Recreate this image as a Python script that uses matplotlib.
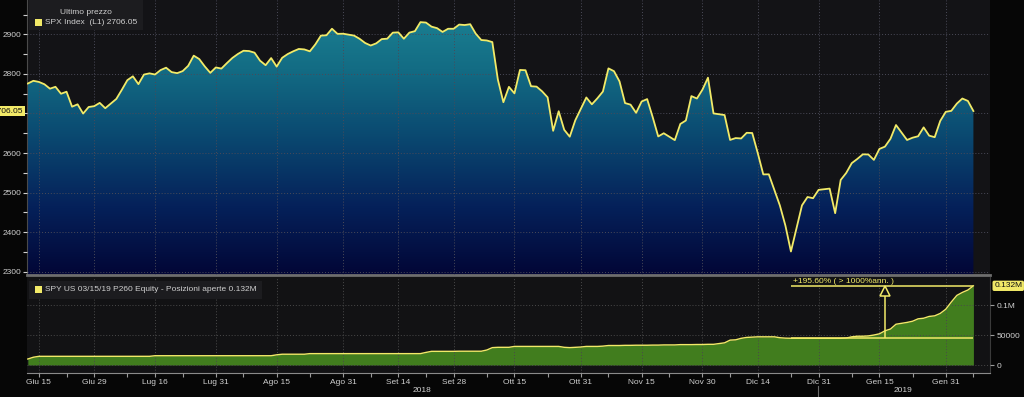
import numpy as np
import pandas as pd
import matplotlib
matplotlib.use("Agg")
import matplotlib.pyplot as plt
from matplotlib.colors import LinearSegmentedColormap
from matplotlib.patches import Rectangle

plt.rcParams["font.family"] = ["Liberation Sans", "DejaVu Sans"]

# trading calendar (NYSE holidays in the window)
start, end = "2018-06-13", "2019-02-07"
holidays = ["2018-07-04", "2018-09-03", "2018-11-22", "2018-12-05",
            "2018-12-25", "2019-01-01", "2019-01-21"]

# SPX closes per month
spx_jun = [2775.63, 2782.49, 2779.66, 2773.75, 2762.59, 2767.32, 2749.76, 2754.88, 2717.07,
           2723.06, 2699.63, 2716.31, 2718.37]
spx_jul = [2726.71, 2713.22, 2736.61, 2759.82, 2784.17, 2793.84, 2774.02, 2798.29, 2801.31,
           2798.43, 2809.55, 2815.62, 2804.49, 2801.83, 2806.98, 2820.40, 2846.07, 2837.44,
           2818.82, 2802.60, 2816.29]
spx_aug = [2813.36, 2827.22, 2840.35, 2850.40, 2858.45, 2857.70, 2853.58, 2833.28, 2821.93,
           2839.96, 2818.37, 2840.69, 2850.13, 2857.05, 2862.96, 2861.82, 2856.98, 2874.69,
           2896.74, 2897.52, 2914.04, 2901.13, 2901.52]
spx_sep = [2896.72, 2888.60, 2878.05, 2871.68, 2877.13, 2887.89, 2888.92, 2904.18, 2904.98,
           2888.80, 2904.31, 2907.95, 2930.75, 2929.67, 2919.37, 2915.56, 2905.97, 2914.00,
           2913.98]
spx_oct = [2924.59, 2923.43, 2925.51, 2901.61, 2885.57, 2884.43, 2880.34, 2785.68, 2728.37,
           2767.13, 2750.79, 2809.92, 2809.21, 2768.78, 2767.78, 2755.88, 2740.69, 2656.10,
           2705.57, 2658.69, 2641.25, 2682.63, 2711.74]
spx_nov = [2740.37, 2723.06, 2738.31, 2755.45, 2813.89, 2806.83, 2781.01, 2726.22, 2722.18,
           2701.58, 2730.20, 2736.27, 2690.73, 2641.89, 2649.93, 2632.56, 2673.45, 2682.17,
           2743.79, 2737.76, 2760.17]
spx_dec = [2790.37, 2700.06, 2695.95, 2633.08, 2637.72, 2636.78, 2651.07, 2650.54, 2599.95,
           2545.94, 2546.16, 2506.96, 2467.42, 2416.62, 2351.10, 2467.70, 2488.83, 2485.74,
           2506.85]
spx_jan = [2510.03, 2447.89, 2531.94, 2549.69, 2574.41, 2584.96, 2596.64, 2596.26, 2582.61,
           2610.30, 2616.10, 2635.96, 2670.71, 2632.90, 2638.70, 2642.33, 2664.76, 2643.85,
           2640.00, 2681.05, 2704.10]
spx_feb = [2706.53, 2724.87, 2737.70, 2731.61, 2706.05]

# SPY 03/15/19 P260 open interest per month
oi_jun = [10000, 13000, 14500, 14500, 14500, 14500, 14500, 14500, 14500, 14500, 14500, 14500,
          14500]
oi_jul = [14500, 14500, 14500, 14500, 14500, 14500, 14500, 14500, 14500, 15500, 15500, 15500,
          15500, 15500, 15500, 15500, 15500, 15500, 15500, 15500, 15500]
oi_aug = [15500, 15500, 15500, 15500, 15500, 15500, 15500, 15500, 15500, 15500, 17000, 18000,
          18000, 18000, 18000, 18000, 19000, 19000, 19000, 19000, 19000, 19000, 19000]
oi_sep = [19000, 19000, 19000, 19000, 19000, 19000, 19000, 19000, 19000, 19000, 19000, 19000,
          19000, 21000, 22800, 22800, 22800, 22800, 22800]
oi_oct = [23000, 23000, 23000, 23000, 23000, 25000, 29000, 29500, 29500, 29500, 31000, 31000,
          31000, 31000, 31000, 31000, 31000, 31000, 31000, 29500, 29000, 29500, 30000]
oi_nov = [31000, 31000, 31000, 31500, 32500, 32500, 32500, 32800, 32800, 33000, 33000, 33000,
          33200, 33200, 33500, 33500, 34000, 34000, 34000, 34200, 34200]
oi_dec = [34500, 34500, 37000, 41500, 42000, 44500, 46000, 46500, 47000, 47000, 47000, 47000,
          45500, 44800, 44600, 44500, 44500, 44500, 44500]
oi_jan = [44500, 44500, 44500, 45000, 47000, 48000, 48000, 48500, 50000, 52000, 57000, 60000,
          68000, 71000, 73000, 77000, 78000, 81000, 82000, 86000, 93000]
oi_feb = [105000, 116000, 121000, 125000, 132000]

major_dates = ["2018-06-15", "2018-06-29", "2018-07-16", "2018-07-31", "2018-08-15",
               "2018-08-31", "2018-09-14", "2018-09-28", "2018-10-15", "2018-10-31",
               "2018-11-15", "2018-11-30", "2018-12-14", "2018-12-31", "2019-01-15",
               "2019-01-31"]
major_labels = ["Giu 15", "Giu 29", "Lug 16", "Lug 31", "Ago 15", "Ago 31", "Set 14", "Set 28",
                "Ott 15", "Ott 31", "Nov 15", "Nov 30", "Dic 14", "Dic 31", "Gen 15", "Gen 31"]
minor_dates = ["2018-06-22", "2018-07-09", "2018-07-23", "2018-08-07", "2018-08-23",
               "2018-09-07", "2018-09-21", "2018-10-08", "2018-10-23", "2018-11-07",
               "2018-11-22", "2018-12-07", "2018-12-24", "2019-01-08", "2019-01-23",
               "2019-02-07"]

spx = spx_jun + spx_jul + spx_aug + spx_sep + spx_oct + spx_nov + spx_dec + spx_jan + spx_feb
oi = oi_jun + oi_jul + oi_aug + oi_sep + oi_oct + oi_nov + oi_dec + oi_jan + oi_feb
dates = pd.bdate_range(start, end, freq="C", holidays=holidays)
assert len(dates) == len(spx) == len(oi)

# x axis in weekdays (Bloomberg style)
def wd(d):
    return np.busday_count(start, np.array(d, dtype="datetime64[D]"))

x = wd(dates.values.astype("datetime64[D]"))
xmaj = wd(major_dates)
xmin = wd(minor_dates)

YEL = "#f2ea68"
TXT = "#cfcfcf"
FS = 6
W, H = 1024, 397
fig = plt.figure(figsize=(W / 100, H / 100), dpi=100, facecolor="#060606")


def fx(px):
    return px / W


def fy(py):
    return 1 - py / H


ax = fig.add_axes([fx(27), fy(275), fx(963), 275 / H])
ax2 = fig.add_axes([fx(27), fy(373), fx(963), (373 - 277) / H])

xl = (-0.15, 174)

# ---- top panel: SPX ----
ylo, yhi = 2291.7, 2986.7
ax.set_facecolor("#131316")
cmap = LinearSegmentedColormap.from_list(
    "bb", ["#020636", "#05215a", "#0a4870", "#136c84", "#1d8595"])
grad = np.linspace(0, 1, 256).reshape(-1, 1)
im = ax.imshow(grad, extent=[xl[0], xl[1], ylo, yhi], origin="lower", aspect="auto",
               cmap=cmap, zorder=1)
poly = ax.fill_between(x, spx, ylo, color="none", lw=0)
im.set_clip_path(poly.get_paths()[0], transform=ax.transData)
ax.plot(x, spx, color=YEL, lw=1.3, zorder=3)
ax.set_xlim(xl)
ax.set_ylim(ylo, yhi)

yt = [2300, 2400, 2500, 2600, 2700, 2800, 2900]
ax.set_yticks(yt)
ax.set_yticklabels([str(v) if v != 2700 else "" for v in yt])
ax.set_yticks(np.arange(2350, 2990, 100), minor=True)
ax.set_xticks(xmaj)
ax.set_xticklabels([])
ax.tick_params(axis="x", length=0)
ax.tick_params(axis="y", which="both", colors=TXT, labelsize=FS, length=3, pad=1, width=0.8)
ax.grid(True, color="#4a4a58", linestyle=(0, (1, 2)), lw=0.7)
ax.set_axisbelow(False)
for s in ["top", "right"]:
    ax.spines[s].set_visible(False)
ax.spines["left"].set_color("#4a4a4a")
ax.spines["bottom"].set_color("#6e6e6e")
ax.spines["bottom"].set_linewidth(2)

ax.annotate("2706.05", xy=(0, spx[-1]), xycoords=("axes fraction", "data"),
            xytext=(-2.5, 0), textcoords="offset points", ha="right", va="center",
            fontsize=FS, color="#111111",
            bbox=dict(boxstyle="square,pad=0.2", fc=YEL, ec="none"))

# ---- bottom panel: open interest ----
ax2.set_facecolor("#121214")
ax2.fill_between(x, oi, 0, color="#417d1e", lw=0, zorder=2)
ax2.plot(x, oi, color=YEL, lw=1.0, zorder=3)
ax2.set_xlim(xl)
ax2.set_ylim(-13300, 146700)
ax2.set_xticks(xmaj)
ax2.set_xticklabels(major_labels)
ax2.set_xticks(xmin, minor=True)
ax2.tick_params(axis="x", which="both", colors="#9a9a9a", labelcolor=TXT, labelsize=FS,
                length=3, pad=1.5, width=0.8)
ax2.yaxis.tick_right()
ax2.set_yticks([0, 50000, 100000])
ax2.set_yticklabels(["0", "50000", "0.1M"])
ax2.tick_params(axis="y", colors="#9a9a9a", labelcolor=TXT, labelsize=FS, length=3, pad=2)
ax2.grid(True, color="#4a4a4a", linestyle=(0, (1, 2)), lw=0.7)
ax2.set_axisbelow(False)
for s in ["top", "left"]:
    ax2.spines[s].set_visible(False)
ax2.spines["right"].set_color("#3a3a3a")
ax2.spines["bottom"].set_color("#8a8a8a")

# performance annotation (+195.60%)
x_from, x_arrow = wd("2018-12-24"), wd("2019-01-16")
base, last = 44650, oi[-1]
ax2.hlines([base, last], x_from, x[-1], color=YEL, lw=1.1, zorder=4)
ax2.vlines(x_arrow, base, last, color=YEL, lw=1.1, zorder=4)
ax2.plot(x_arrow, 124000, marker="^", ms=7, mfc="#121214", mec=YEL, mew=1.1, zorder=5)
ax2.text(x_from + 0.3, last + 1500, "+195.60% ( > 1000%ann. )", color=YEL, fontsize=FS,
         ha="left", va="bottom", zorder=5)
ax2.annotate("0.132M", xy=(1, last), xycoords=("axes fraction", "data"),
             xytext=(3, 0), textcoords="offset points", ha="left", va="center",
             fontsize=FS, color="#111111",
             bbox=dict(boxstyle="round,pad=0.2", fc=YEL, ec="none"))

# year labels
fig.text(fx(422), fy(391), "2018", ha="center", va="center", fontsize=FS, color=TXT)
fig.text(fx(903), fy(391), "2019", ha="center", va="center", fontsize=FS, color=TXT)
fig.add_artist(plt.Line2D([fx(818), fx(818)], [fy(386), fy(397)], color="#6a6a6a", lw=0.8))

# legend boxes
fig.patches.append(Rectangle((fx(29), fy(30)), fx(114), 30 / H, transform=fig.transFigure,
                             fc="#1c1c1f", ec="none", zorder=5))
fig.patches.append(Rectangle((fx(35), fy(26)), fx(7), 7 / H, transform=fig.transFigure,
                             fc=YEL, ec="none", zorder=6))
fig.text(fx(86), fy(12), "Ultimo prezzo", ha="center", va="center", fontsize=FS, color=TXT,
         zorder=6)
fig.text(fx(45), fy(22.5), "SPX Index  (L1) 2706.05", ha="left", va="center", fontsize=FS,
         color=TXT, zorder=6)

fig.patches.append(Rectangle((fx(29), fy(299)), fx(233), 18 / H, transform=fig.transFigure,
                             fc="#1c1c1f", ec="none", zorder=5))
fig.patches.append(Rectangle((fx(35), fy(293)), fx(7), 7 / H, transform=fig.transFigure,
                             fc=YEL, ec="none", zorder=6))
fig.text(fx(45), fy(289.5), "SPY US 03/15/19 P260 Equity - Posizioni aperte 0.132M",
         ha="left", va="center", fontsize=FS, color=TXT, zorder=6)

fig.savefig("out.png", dpi=100, facecolor=fig.get_facecolor())
